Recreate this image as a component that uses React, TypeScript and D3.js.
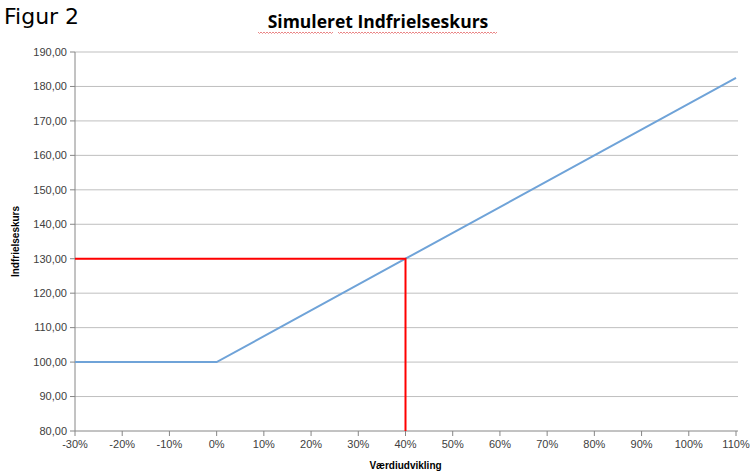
import React from "react";
import * as d3 from "d3";

// Værdiudvikling (%) og simuleret indfrielseskurs
const udvikling = [-30, 0, 40, 110];
const kurs = [100, 100, 130, 182.5];

// markering ved 40 %
const markX = [-30, 40, 40];
const markY = [130, 130, 80];

const xTicks = [-30, -20, -10, 0, 10, 20, 30, 40, 50, 60, 70, 80, 90, 100, 110];
const yTicks = [80, 90, 100, 110, 120, 130, 140, 150, 160, 170, 180, 190];

const W = 752;
const H = 473;
const margin = { left: 75, right: 16, top: 52, bottom: 42 };

const App: React.FC = () => {
    const x = d3.scaleLinear().domain([-30, 110]).range([margin.left, W - margin.right]);
    const y = d3.scaleLinear().domain([80, 190]).range([H - margin.bottom, margin.top]);

    const line = d3
        .line<number>()
        .x((_, i) => x(udvikling[i]))
        .y((d) => y(d));

    const markLine = d3
        .line<number>()
        .x((_, i) => x(markX[i]))
        .y((d) => y(d));

    const fmt = (v: number) => v.toFixed(2).replace(".", ",");
    const labelFont = "'Liberation Sans', Arial, sans-serif";

    // rød bølgelinje under titlen (stavekontrol)
    const wave = (x0: number, x1: number, yy: number) => {
        let p = `M${x0},${yy}`;
        for (let xx = x0; xx < x1; xx += 3) {
            p += ` L${xx + 1.5},${yy + 1.5} L${xx + 3},${yy}`;
        }
        return p;
    };

    return (
        <svg width={W} height={H} style={{ position: "absolute", left: 0, top: 0, background: "#fff" }}>
            <text x={4} y={24} fontFamily="'DejaVu Sans', Verdana, sans-serif" fontSize={22} fill="#000">
                Figur 2
            </text>
            <text
                x={378}
                y={28}
                textAnchor="middle"
                fontFamily="'Open Sans', sans-serif"
                fontWeight="bold"
                fontSize={17.5}
                fill="#000"
            >
                Simuleret Indfrielseskurs
            </text>
            <path d={wave(258, 333, 32)} stroke="#e87878" strokeWidth={0.9} fill="none" />
            <path d={wave(338, 497, 32)} stroke="#e87878" strokeWidth={0.9} fill="none" />

            {/* gitterlinjer */}
            {yTicks.map((t) => (
                <g key={t}>
                    <line x1={margin.left} x2={W - margin.right + 2} y1={y(t)} y2={y(t)} stroke={t === 80 ? "#868686" : "#bfbfbf"} />
                    <line x1={margin.left - 5} x2={margin.left} y1={y(t)} y2={y(t)} stroke="#868686" />
                    <text
                        x={margin.left - 8}
                        y={y(t)}
                        dy="0.35em"
                        textAnchor="end"
                        fontFamily={labelFont}
                        fontSize={11}
                        fill="#404040"
                    >
                        {fmt(t)}
                    </text>
                </g>
            ))}
            <line x1={margin.left} x2={margin.left} y1={y(190)} y2={y(80)} stroke="#868686" />

            {xTicks.map((t) => (
                <g key={t}>
                    <line x1={x(t)} x2={x(t)} y1={y(80)} y2={y(80) + 5} stroke="#868686" />
                    <text
                        x={x(t)}
                        y={y(80) + 17}
                        textAnchor="middle"
                        fontFamily={labelFont}
                        fontSize={11}
                        fill="#404040"
                    >
                        {t}%
                    </text>
                </g>
            ))}

            <path d={line(kurs) ?? ""} fill="none" stroke="#6fa3d8" strokeWidth={2} />
            <path d={markLine(markY) ?? ""} fill="none" stroke="#ff0000" strokeWidth={2} />

            <text
                x={(x(-30) + x(110)) / 2}
                y={469}
                textAnchor="middle"
                fontFamily={labelFont}
                fontWeight="bold"
                fontSize={10}
                fill="#000"
            >
                Værdiudvikling
            </text>
            <text
                transform={`translate(19,${(y(80) + y(190)) / 2}) rotate(-90)`}
                textAnchor="middle"
                fontFamily={labelFont}
                fontWeight="bold"
                fontSize={10}
                fill="#000"
            >
                Indfrielseskurs
            </text>
        </svg>
    );
};

export default App;
